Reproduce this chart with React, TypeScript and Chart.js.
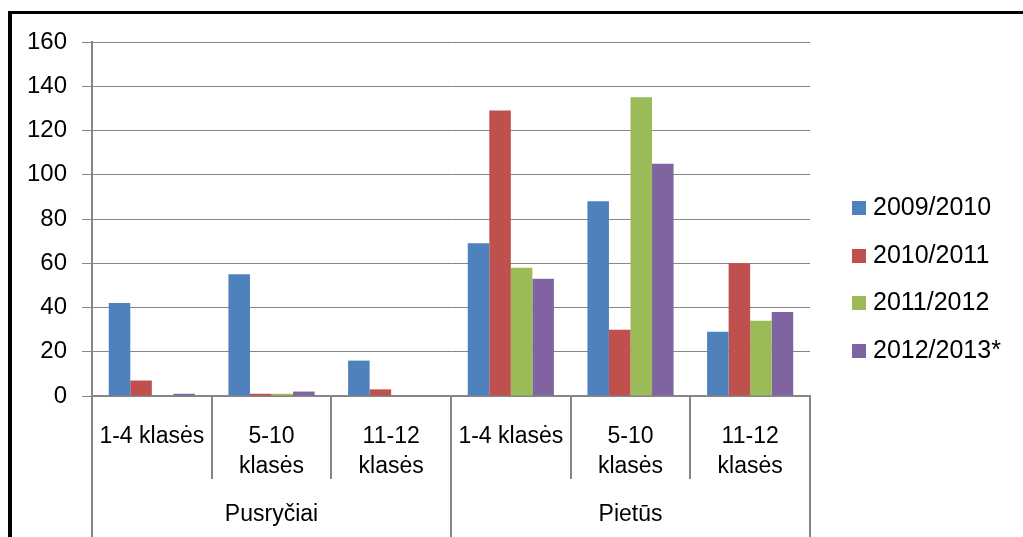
import React, { useEffect, useRef } from "react";
import { Chart, registerables } from "chart.js";

Chart.register(...registerables);

const categories: (string | string[])[] = [
  "1-4 klasės",
  ["5-10", "klasės"],
  ["11-12", "klasės"],
  "1-4 klasės",
  ["5-10", "klasės"],
  ["11-12", "klasės"],
];
const groups = ["Pusryčiai", "Pietūs"];
const groupSize = 3;

const seriesNames = ["2009/2010", "2010/2011", "2011/2012", "2012/2013*"];
const s2009 = [42, 55, 16, 69, 88, 29];
const s2010 = [7, 1, 3, 129, 30, 60];
const s2011 = [0, 1, 0, 58, 135, 34];
const s2012 = [1, 2, 0, 53, 105, 38];
const colors = ["#4F81BD", "#C0504D", "#9BBB59", "#8064A2"];

const yMin = 0;
const yMax = 160;
const yStep = 20;

const FONT = "'Liberation Sans', Arial, sans-serif";
const GRID = "#868686";

const decorPlugin = {
  id: "decor",
  beforeDraw(chart: any) {
    const ctx = chart.ctx;
    ctx.save();
    ctx.fillStyle = "#000";
    ctx.fillRect(8, 11, 4, 537 - 11);
    ctx.fillRect(8, 11, 1023 - 8, 3);
    ctx.restore();
  },
  afterDraw(chart: any) {
    const ctx = chart.ctx;
    const xs = chart.scales.x;
    const area = chart.chartArea;
    const n = categories.length;
    const w = (area.right - area.left) / n;
    ctx.save();
    ctx.strokeStyle = GRID;
    ctx.lineWidth = 2;
    for (let i = 0; i <= n; i++) {
      const x =
        i < n ? xs.getPixelForValue(i) - w / 2 : xs.getPixelForValue(n - 1) + w / 2;
      const isGroup = i % groupSize === 0;
      ctx.beginPath();
      ctx.moveTo(Math.round(x), area.bottom);
      ctx.lineTo(Math.round(x), isGroup ? 537 : 479);
      ctx.stroke();
    }
    // group labels
    ctx.fillStyle = "#000";
    ctx.font = `23px ${FONT}`;
    ctx.textAlign = "center";
    ctx.textBaseline = "middle";
    groups.forEach((g, gi) => {
      const a = xs.getPixelForValue(gi * groupSize) - w / 2;
      const b = xs.getPixelForValue(gi * groupSize + groupSize - 1) + w / 2;
      ctx.fillText(g, (a + b) / 2, 515);
    });
    // legend
    ctx.font = `25px ${FONT}`;
    ctx.textAlign = "left";
    ctx.textBaseline = "alphabetic";
    chart.data.datasets.forEach((ds: any, i: number) => {
      const y = 201 + i * 47.6;
      ctx.fillStyle = ds.backgroundColor;
      ctx.fillRect(852, Math.round(y), 14, 14);
      ctx.fillStyle = "#000";
      ctx.fillText(ds.label, 873, Math.round(y) + 14);
    });
    ctx.restore();
  },
};

export default function App() {
  const ref = useRef<HTMLCanvasElement>(null);
  useEffect(() => {
    if (!ref.current) return;
    const data = [s2009, s2010, s2011, s2012];
    const chart = new Chart(ref.current, {
      type: "bar",
      data: {
        labels: categories,
        datasets: seriesNames.map((name, i) => ({
          label: name,
          data: data[i],
          backgroundColor: colors[i],
          borderWidth: 0,
          categoryPercentage: 0.72,
          barPercentage: 1,
        })),
      },
      options: {
        animation: false,
        responsive: false,
        maintainAspectRatio: false,
        layout: { padding: { left: 0, right: 213, top: 42, bottom: 0 } },
        plugins: { legend: { display: false }, tooltip: { enabled: false } },
        scales: {
          x: {
            grid: { display: false },
            border: { display: true, color: GRID, width: 2 },
            ticks: {
              color: "#000",
              font: { family: FONT, size: 23, lineHeight: 1.3 },
              padding: 18,
              maxRotation: 0,
              autoSkip: false,
            },
            afterFit(scale: any) {
              scale.height = 537 - 396;
            },
          },
          y: {
            min: yMin,
            max: yMax,
            grid: { color: GRID, lineWidth: 1, tickLength: 10, tickColor: GRID, tickWidth: 1 },
            border: { display: true, color: GRID, width: 2 },
            ticks: {
              stepSize: yStep,
              color: "#000",
              font: { family: FONT, size: 24 },
              padding: 15,
            },
            afterFit(scale: any) {
              scale.width = 92;
            },
          },
        },
      },
      plugins: [decorPlugin],
    });
    return () => chart.destroy();
  }, []);
  return (
    <div style={{ position: "absolute", left: 0, top: 0, width: 1023, height: 537, background: "#fff" }}>
      <canvas ref={ref} width={1023} height={537} style={{ display: "block" }} />
    </div>
  );
}
